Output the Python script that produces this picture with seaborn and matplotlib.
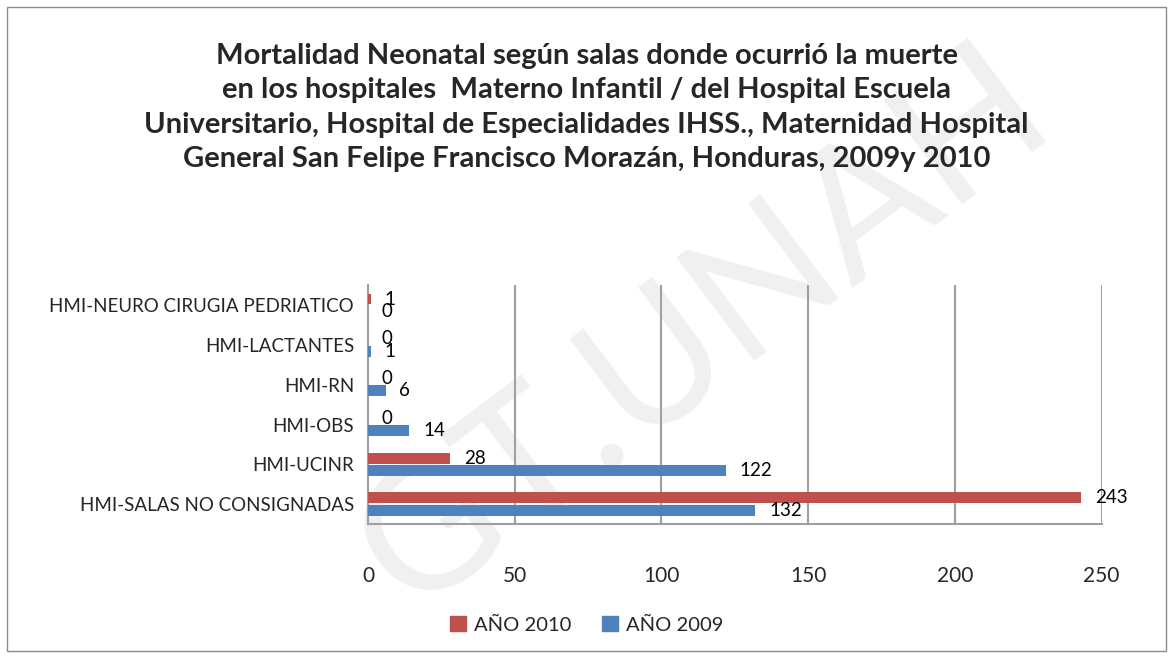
import matplotlib
matplotlib.use("Agg")
import matplotlib.pyplot as plt
import seaborn as sns
import pandas as pd
from matplotlib.patches import Rectangle

categories = ["HMI-NEURO CIRUGIA PEDRIATICO", "HMI-LACTANTES", "HMI-RN", "HMI-OBS",
              "HMI-UCINR", "HMI-SALAS NO CONSIGNADAS"]
series_names = ["AÑO 2010", "AÑO 2009"]
values_2010 = [1, 0, 0, 0, 28, 243]
values_2009 = [0, 1, 6, 14, 122, 132]
x_ticks = [0, 50, 100, 150, 200, 250]
title = ("Mortalidad Neonatal según salas donde ocurrió la muerte\n"
         "en los hospitales  Materno Infantil / del Hospital Escuela\n"
         "Universitario, Hospital de Especialidades IHSS., Maternidad Hospital\n"
         "General San Felipe Francisco Morazán, Honduras, 2009y 2010")

sns.set_theme(style="white")
plt.rcParams["font.family"] = ["Lato", "DejaVu Sans"]

df = pd.DataFrame({
    "sala": categories * 2,
    "valor": values_2010 + values_2009,
    "serie": [series_names[0]] * len(categories) + [series_names[1]] * len(categories),
})
palette = {"AÑO 2010": "#C0504D", "AÑO 2009": "#4F81BD"}

fig = plt.figure(figsize=(11.73, 6.59), dpi=100)
fig.patches.append(Rectangle((0.006, 0.012), 0.988, 0.978, transform=fig.transFigure,
                             fill=False, edgecolor="#8c8c8c", linewidth=1.0))
wm = fig.text(0.60, 0.50, "GT.UNAH", rotation=37, fontsize=130, color="#f0f0f0",
              ha="center", va="center", zorder=-5)

ax = fig.add_axes([0.3137, 0.205, 0.6255, 0.362])
ax.patch.set_alpha(0)
sns.barplot(data=df, y="sala", x="valor", hue="serie", order=categories,
            hue_order=series_names, palette=palette, orient="h",
            width=0.62, gap=0.12, saturation=1, ax=ax, legend=False,
            edgecolor="none", zorder=3)

for cont in ax.containers:
    ax.bar_label(cont, padding=10, fontsize=13.5, color="black")

ax.set_xlim(0, 250)
ax.set_xticks(x_ticks)
ax.set_xticklabels([str(v) for v in x_ticks], fontsize=15)
ax.tick_params(axis="x", length=0, pad=30)
ax.tick_params(axis="y", length=0, pad=10, labelsize=13.5)
ax.set_xlabel("")
ax.set_ylabel("")
for s in ["top", "right"]:
    ax.spines[s].set_visible(False)
ax.spines["bottom"].set_color("#a0a0a0")
ax.spines["left"].set_color("#a0a0a0")
ax.spines["bottom"].set_linewidth(1.5)
ax.spines["left"].set_linewidth(1.5)
ax.grid(axis="x", color="#a0a0a0", linewidth=1.5, zorder=0)
ax.set_axisbelow(True)

fig.suptitle(title, fontsize=21, fontweight="bold", y=0.935, linespacing=1.4)

handles = [Rectangle((0, 0), 1, 1, color=palette[n]) for n in series_names]
fig.legend(handles, series_names, loc="center", bbox_to_anchor=(0.5, 0.052), ncol=2,
           frameon=False, fontsize=14.5, handlelength=0.8, handleheight=0.8,
           columnspacing=1.5, handletextpad=0.4)

fig.savefig("out.png", dpi=100)
